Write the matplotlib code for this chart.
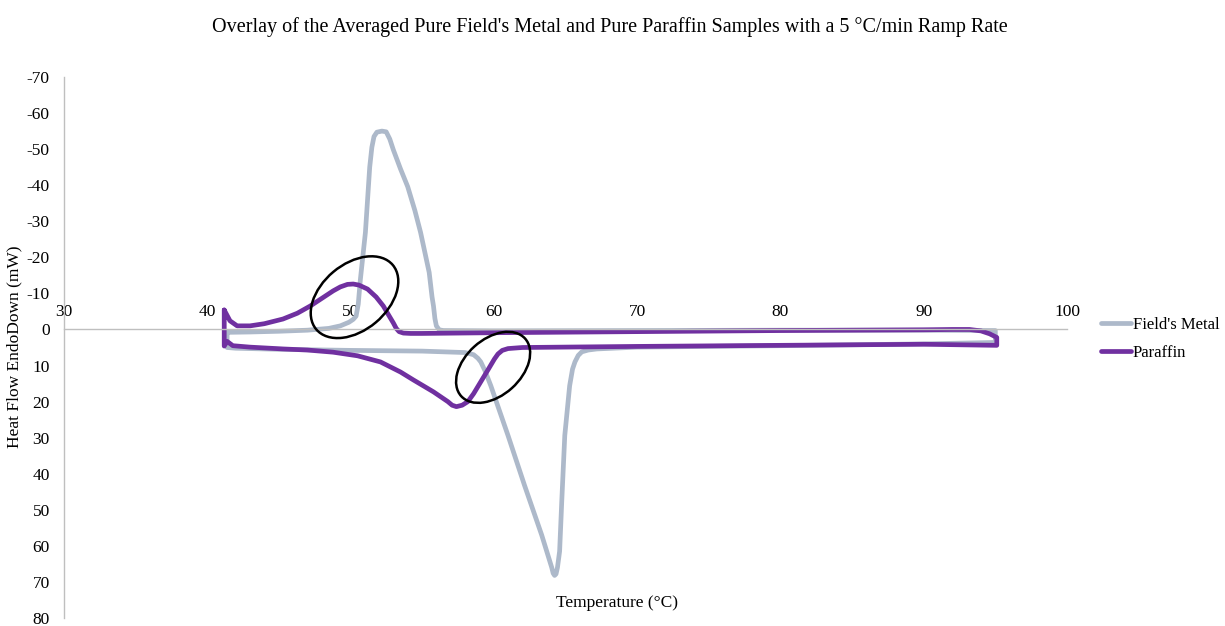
import matplotlib
matplotlib.use("Agg")
import matplotlib.pyplot as plt
from matplotlib.patches import Ellipse
from matplotlib.transforms import IdentityTransform

plt.rcParams["font.family"] = ["Liberation Serif", "DejaVu Serif"]
plt.rcParams["axes.unicode_minus"] = False

# Field's Metal DSC loop (heating trace left->right, then cooling trace right->left)
fm_temp = [41.4, 43.0, 45.0, 47.0, 48.5, 49.3, 49.9, 50.2, 50.4, 50.55, 50.7, 51.05,
           51.35, 51.5, 51.65, 51.85, 52.2, 52.5, 52.75, 53.0, 53.5, 54.0, 54.5,
           54.9, 55.5, 55.7, 55.8, 55.9, 56.0, 56.2, 56.5, 60.0, 70.0, 80.0, 90.0,
           95.0,
           95.0, 90.0, 80.0, 70.0, 67.2, 66.6, 66.15, 65.9, 65.67, 65.5, 65.3, 64.96,
           64.75, 64.6, 64.45, 64.35, 64.25, 64.15, 64.05, 63.35, 62.15, 61.0, 59.8,
           59.4, 59.1, 58.9, 58.6, 58.0, 55.0, 50.0, 45.0, 42.0, 41.4, 41.4]
fm_flow = [0.8, 0.7, 0.5, 0.2, -0.3, -1.0, -2.0, -2.8, -3.7, -7.0, -13.9, -26.9,
           -45.0, -50.5, -53.5, -54.7, -55.0, -54.8, -52.8, -49.8, -44.5, -39.6, -33.0,
           -26.9, -15.8, -9.0, -6.5, -3.0, -1.0, 0.1, 0.3, 0.4, 0.3, 0.2, 0.2,
           0.3,
           3.6, 4.0, 4.5, 4.9, 5.4, 5.7, 6.2, 7.2, 9.0, 11.0, 15.6, 29.4,
           47.6, 61.5, 66.0, 67.8, 68.2, 67.6, 66.0, 57.0, 43.2, 29.4, 15.6,
           11.5, 9.0, 8.0, 7.0, 6.4, 6.0, 5.8, 5.5, 5.2, 5.0, 0.8]

# Paraffin DSC loop
pa_temp = [41.2, 41.6, 42.1, 43.0, 44.0, 45.3, 46.3, 47.2, 48.0, 48.8, 49.3, 49.8,
           50.2, 50.6, 51.2, 51.8, 52.3, 52.7, 53.0, 53.2, 53.4, 53.7, 54.2, 55.0,
           60.0, 70.0, 80.0, 90.0, 92.0, 93.2, 94.0, 94.6, 95.1,
           95.1, 90.0, 80.0, 70.0, 62.0, 61.0, 60.6, 60.3, 60.05, 59.6, 59.1, 58.6,
           58.2, 57.8, 57.4, 57.1, 56.8, 55.8, 54.4, 53.5, 52.1, 50.5, 48.8, 47.0,
           45.3, 43.0, 41.8, 41.4, 41.2, 41.2]
pa_flow = [-5.4, -2.4, -1.0, -1.0, -1.6, -2.9, -4.5, -6.5, -8.6, -10.7, -11.8, -12.5,
           -12.6, -12.3, -11.2, -9.0, -6.5, -3.8, -1.8, -0.3, 0.6, 1.0, 1.1, 1.1,
           0.9, 0.6, 0.3, 0.1, 0.0, 0.0, 0.4, 1.2, 2.2,
           4.4, 4.1, 4.4, 4.7, 5.0, 5.3, 5.8, 6.8, 8.2, 11.2, 14.5, 17.8,
           20.0, 21.0, 21.4, 21.0, 20.0, 17.3, 14.0, 11.8, 9.0, 7.3, 6.3, 5.7,
           5.4, 4.9, 4.5, 3.3, 4.6, -5.4]

x_ticks = [30, 40, 50, 60, 70, 80, 90, 100]
y_ticks = list(range(-70, 81, 10))

# Highlighted regions: (temperature, heat flow) centres, sizes in pixels
ring_centres = [(50.29, -8.95), (59.96, 10.5)]
ring_sizes = [(100, 66, 40), (86, 56, 42)]

GRAY = "#ADB9CA"
PURPLE = "#7030A0"
AXIS = "#BFBFBF"

fig = plt.figure(figsize=(12.25, 6.26), dpi=100)
ax = fig.add_axes([63.7 / 1225, 8 / 626, (1067 - 63.7) / 1225, (618 - 77) / 626])

line_kw = dict(lw=3.4, solid_joinstyle="round", solid_capstyle="round")
ax.plot(fm_temp, fm_flow, color=GRAY, label="Field's Metal", **line_kw)
ax.plot(pa_temp, pa_flow, color=PURPLE, label="Paraffin", **line_kw)

ax.set_xlim(30, 100)
ax.set_ylim(80, -70)
ax.set_xticks(x_ticks)
ax.set_yticks(y_ticks)

for s in ("right", "bottom"):
    ax.spines[s].set_visible(False)
ax.spines["top"].set_position(("data", 0))
for s in ("top", "left"):
    ax.spines[s].set_color(AXIS)
    ax.spines[s].set_linewidth(1.0)
ax.xaxis.tick_top()
ax.tick_params(axis="x", length=0, pad=7, labelsize=12.5)
ax.tick_params(axis="y", length=0, pad=10, labelsize=12.5)

fig.text(610 / 1225, 1 - 27 / 626,
         "Overlay of the Averaged Pure Field's Metal and Pure Paraffin Samples with a 5 °C/min Ramp Rate",
         ha="center", va="center", fontsize=14.5)
fig.text(14 / 1225, 1 - 347 / 626, "Heat Flow EndoDown (mW)", rotation=90,
         ha="center", va="center", fontsize=12.5)
fig.text(617 / 1225, 1 - 603 / 626, "Temperature (°C)", ha="center", va="center",
         fontsize=12.5)

ax.legend(loc="center left", bbox_to_anchor=(1093 / 1225, 1 - 339 / 626),
          bbox_transform=fig.transFigure, frameon=False, fontsize=12,
          handlelength=1.8, handletextpad=0.1, labelspacing=0.7, borderpad=0)

fig.canvas.draw()
for (cx, cy), (w, h, ang) in zip(ring_centres, ring_sizes):
    px, py = ax.transData.transform((cx, cy))
    fig.add_artist(Ellipse((px, py), w, h, angle=ang, transform=IdentityTransform(),
                           fill=False, edgecolor="black", lw=1.8))

fig.savefig("out.png", dpi=100)
